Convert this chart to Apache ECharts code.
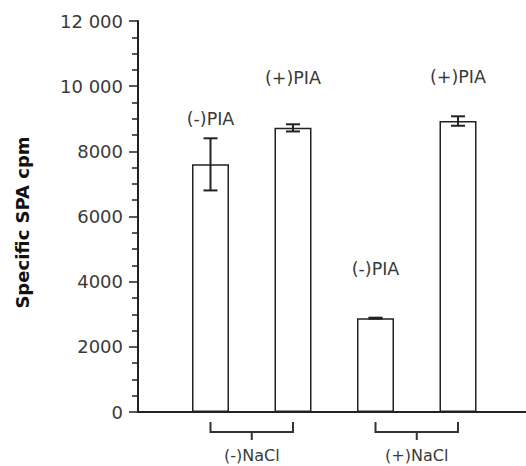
<!DOCTYPE html>
<html>
<head>
<meta charset="utf-8">
<script src="https://cdn.jsdelivr.net/npm/echarts@6/dist/echarts.min.js"></script>
<style>html,body{margin:0;padding:0;background:#fff}#c{width:526px;height:466px}</style>
</head>
<body>
<div id="c"></div>
<script>
// ---- data ----
var barPositions = [1, 2, 3, 4];
var barValues = [7600, 8720, 2880, 8930];
var barErrors = [800, 110, 15, 145];
var piaLabels = ['(-)PIA', '(+)PIA', '(-)PIA', '(+)PIA'];
var groupLabels = ['(-)NaCl', '(+)NaCl'];
var groupSpans = [[1, 2], [3, 4]];
var yTicks = [0, 2000, 4000, 6000, 8000, 10000, 12000];
var yTickLabels = ['0', '2000', '4000', '6000', '8000', '10 000', '12 000'];

// ---- styles ----
var labelDistances = [36, 41, 40, 35];
var INK = '#222';
var TXT = '#3a3a3a';
var FONT = 'DejaVu Sans';

var chart = echarts.init(document.getElementById('c'), null, {renderer: 'svg'});

var barData = barPositions.map(function (x, i) {
  return {
    value: [x, barValues[i]],
    label: {distance: labelDistances[i]}
  };
});
var errData = barPositions.map(function (x, i) {
  return [x, barValues[i] - barErrors[i], barValues[i] + barErrors[i]];
});
var bracketData = groupSpans.map(function (s) { return [s[0], s[1]]; });
var groupCenters = groupSpans.map(function (s) { return (s[0] + s[1]) / 2; });

chart.setOption({
  animation: false,
  grid: {left: 138, right: 0, top: 21, bottom: 54, containLabel: false},
  xAxis: {
    type: 'value',
    min: 0.1212,
    max: 4.8242,
    splitLine: {show: false},
    axisLine: {show: true, lineStyle: {color: INK, width: 2}},
    axisTick: {show: false},
    axisLabel: {
      show: true,
      customValues: groupCenters,
      margin: 35,
      fontFamily: FONT,
      fontSize: 16,
      color: TXT,
      formatter: function (v) {
        var i = groupCenters.indexOf(v);
        return i >= 0 ? groupLabels[i] : '';
      }
    }
  },
  yAxis: {
    type: 'value',
    min: 0,
    max: 12000,
    interval: 2000,
    name: 'Specific SPA cpm',
    nameLocation: 'middle',
    nameGap: 107,
    nameTextStyle: {fontFamily: FONT, fontSize: 18, fontWeight: 'bold', color: '#111', padding: [0, 12, 0, 0]},
    splitLine: {show: false},
    axisLine: {show: true, lineStyle: {color: INK, width: 2}},
    axisTick: {show: true, length: 9, lineStyle: {color: INK, width: 1.5}},
    minorTick: {show: true, splitNumber: 4, length: 6, lineStyle: {color: INK, width: 1.5}},
    axisLabel: {
      margin: 15,
      fontFamily: FONT,
      fontSize: 18,
      color: TXT,
      formatter: function (v) {
        var i = yTicks.indexOf(v);
        return i >= 0 ? yTickLabels[i] : '';
      }
    }
  },
  series: [
    {
      type: 'bar',
      data: barData,
      barWidth: 37,
      itemStyle: {color: '#fff', borderColor: INK, borderWidth: 1.5},
      label: {
        show: true,
        position: 'top',
        fontFamily: FONT,
        fontSize: 17.5,
        color: TXT,
        formatter: function (p) { return piaLabels[p.dataIndex]; }
      },
      z: 2
    },
    {
      type: 'custom',
      data: errData,
      z: 3,
      renderItem: function (params, api) {
        var x = api.value(0);
        var lo = api.coord([x, api.value(1)]);
        var hi = api.coord([x, api.value(2)]);
        var hw = 7;
        var st = {stroke: INK, lineWidth: 2};
        return {
          type: 'group',
          children: [
            {type: 'line', shape: {x1: lo[0], y1: lo[1], x2: hi[0], y2: hi[1]}, style: st},
            {type: 'line', shape: {x1: lo[0] - hw, y1: lo[1], x2: lo[0] + hw, y2: lo[1]}, style: st},
            {type: 'line', shape: {x1: hi[0] - hw, y1: hi[1], x2: hi[0] + hw, y2: hi[1]}, style: st}
          ]
        };
      }
    },
    {
      type: 'custom',
      data: bracketData,
      clip: false,
      silent: true,
      renderItem: function (params, api) {
        var a = api.coord([api.value(0), 0]);
        var b = api.coord([api.value(1), 0]);
        var y0 = a[1] + 10, y1 = a[1] + 20, y2 = a[1] + 28;
        var m = (a[0] + b[0]) / 2;
        var st = {stroke: '#333', lineWidth: 2, fill: null};
        return {
          type: 'group',
          children: [
            {type: 'polyline', shape: {points: [[a[0], y0], [a[0], y1], [b[0], y1], [b[0], y0]]}, style: st},
            {type: 'line', shape: {x1: m, y1: y1, x2: m, y2: y2}, style: st}
          ]
        };
      }
    }
  ]
});
</script>
</body>
</html>
